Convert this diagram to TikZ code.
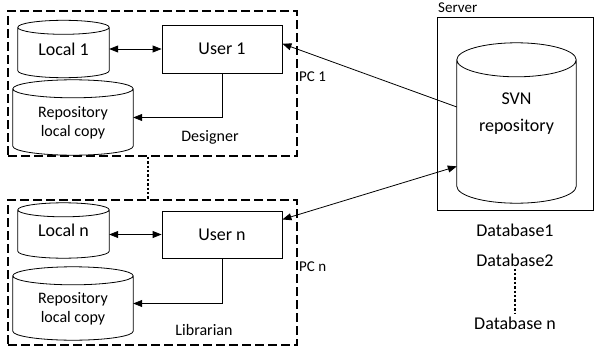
\documentclass[tikz,border=0pt]{standalone}
\usepackage{fontspec}
\setmainfont{Carlito}
\usetikzlibrary{calc,arrows.meta}
\newcommand\cylbody[2]{%
  \draw[cylline] let \p1=(#1.north west), \p2=(#1.south east), \n1={(\x2-\x1)/2} in
    (\x1,\y1-#2) -- (\x1,\y2+#2) arc[start angle=180,end angle=360,x radius={\n1*1pt},y radius=#2] -- (\x2,\y1-#2)
    ($(\x1,\y1-#2)+(\n1*1pt,0pt)$) ellipse[x radius={\n1*1pt},y radius=#2];
}
\begin{document}
\begin{tikzpicture}[x=1pt,y=-1pt,
  cylline/.style={line width=0.8pt},
  frame/.style={inner sep=0pt, draw=none},
  userbox/.style={draw, line width=0.8pt, minimum width=120pt, inner sep=0pt, font=\fontsize{18}{22}\selectfont},
  pcbox/.style={draw, line width=1.6pt, dash pattern=on 9pt off 4pt, inner sep=0pt},
  serverbox/.style={draw, line width=0.8pt, inner sep=0pt},
  arr/.style={line width=0.8pt, -{Triangle[length=9pt,width=7pt]}},
  dblarr/.style={line width=0.8pt, {Triangle[length=9pt,width=7pt]}-{Triangle[length=9pt,width=7pt]}},
  dots/.style={line width=2.4pt, dash pattern=on 2.4pt off 2pt},
  big/.style={font=\fontsize{18}{22}\selectfont},
  mid/.style={font=\fontsize{16}{19}\selectfont, align=center},
  small/.style={font=\fontsize{15}{18}\selectfont},
]
\useasboundingbox (0,0) rectangle (596,353);

% PC boxes
\node[pcbox, minimum width=289pt, minimum height=145pt] (pc1) at (152.5,83.5) {};
\node[pcbox, minimum width=289pt, minimum height=145pt] (pcn) at (152.5,272.5) {};

% PC 1 contents
\node[frame, minimum width=91pt, minimum height=57pt, big] (local1) at (63.5,49) {Local 1};
\node[frame, minimum width=120pt, minimum height=75pt] (rep1) at (73,117.5) {};
\node[mid] (rep1t) at ($(rep1.center)+(0,5)$) {Repository\\local copy};
\node[userbox, minimum height=48pt] (user1) at (222,49) {User 1};
\cylbody{local1}{7pt}
\cylbody{rep1}{9pt}
\node[mid] (designer) at (210,137) {Designer};
\node[small, anchor=west, inner sep=0pt] (pc1l) at (299,77) {PC 1};

% PC n contents
\node[frame, minimum width=91pt, minimum height=55pt, big] (localn) at (63.5,230.5) {Local n};
\node[frame, minimum width=120pt, minimum height=73pt] (repn) at (73,303.5) {};
\node[mid] (repnt) at ($(repn.center)+(0,5)$) {Repository\\local copy};
\node[userbox, minimum height=47pt] (usern) at (222,234.5) {User n};
\cylbody{localn}{7pt}
\cylbody{repn}{9pt}
\node[mid] (librarian) at (204,330) {Librarian};
\node[small, anchor=west, inner sep=0pt] (pcnl) at (299,267) {PC n};

% Server
\node[serverbox, minimum width=156pt, minimum height=193pt] (server) at (515,113.5) {};
\node[small, anchor=west, inner sep=0pt] (serverl) at (438,8) {Server};
\node[frame, minimum width=119pt, minimum height=160pt] (svn) at (516.5,123) {};
\cylbody{svn}{17pt}
\node[big, align=center, font=\fontsize{18}{27}\selectfont] (svnt) at ($(svn.center)+(0,-9.5)$) {SVN\\repository};

\node[big, inner sep=2pt] (db1) at (515,230) {Database1};
\node[big, inner sep=2pt] (db2) at (515,260) {Database2};
\node[big, inner sep=2pt] (dbn) at (515,323) {Database n};
\draw[dots] (db2.south) -- (dbn.north);

% connectors
\draw[dblarr] (user1.west -| local1.east) -- (user1.west);
\draw[arr] (user1.south) |- (rep1.east);
\draw[dblarr] (usern.west -| localn.east) -- (usern.west);
\draw[arr] (usern.south) |- (repn.east);
\draw[arr] (svn.165) -- (user1.5);
\draw[dblarr] (usern.14) -- (svn.216);
\draw[dots] ($(pc1.south)+(-4.5,0)$) -- ($(pcn.north)+(-4.5,0)$);
\end{tikzpicture}
\end{document}
